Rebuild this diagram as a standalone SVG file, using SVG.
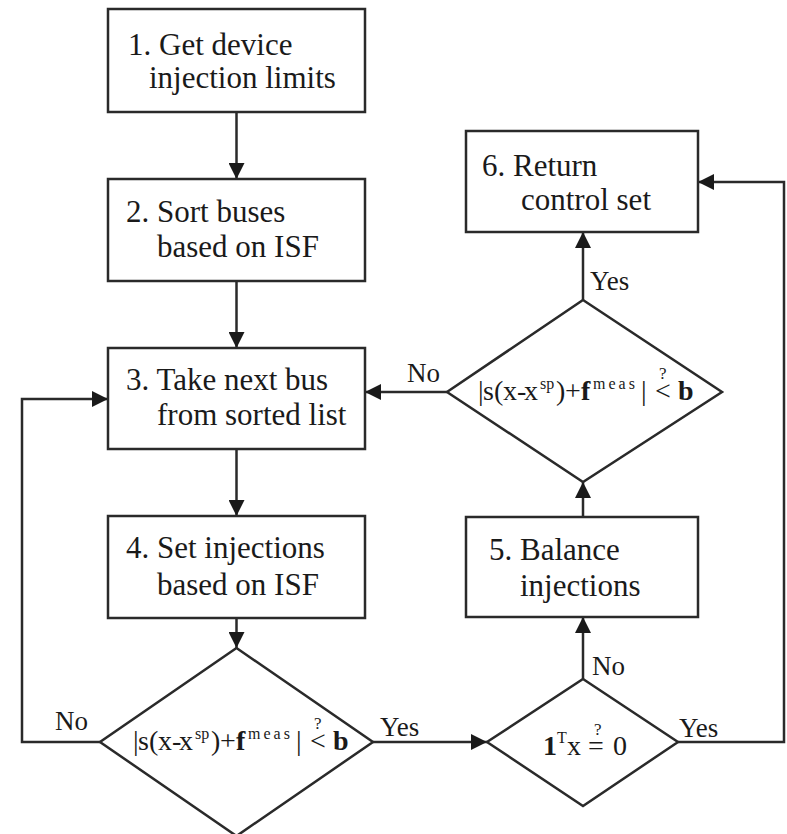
<svg xmlns="http://www.w3.org/2000/svg" width="787" height="834" viewBox="0 0 787 834">
  <style>
    .box { fill: #fff; stroke: #2a2a2a; stroke-width: 2.5; }
    .dia { fill: #fff; stroke: #2a2a2a; stroke-width: 2.5; }
    .wire { fill: none; stroke: #2a2a2a; stroke-width: 2.5; }
    text { font-family: "Liberation Serif", "DejaVu Serif", serif; fill: #1a1a1a; }
    .t { font-size: 31px; }
    .lbl { font-size: 27px; }
    .m { font-size: 28px; }
    .sup { font-size: 16px; }
    .wide { letter-spacing: 3px; }
    .q { font-size: 17px; }
    .b { font-weight: bold; }
  </style>
  <defs>
    <marker id="arrow" markerUnits="userSpaceOnUse" markerWidth="16" markerHeight="16" refX="16" refY="8" orient="auto">
      <path d="M0,0 L16,8 L0,16 z" fill="#1a1a1a"/>
    </marker>
  </defs>

  <!-- connectors -->
  <g id="connectors" class="wire">
    <path d="M236.5,112 V179" marker-end="url(#arrow)"/>
    <path d="M236.5,281 V348" marker-end="url(#arrow)"/>
    <path d="M236.5,449 V516" marker-end="url(#arrow)"/>
    <path d="M236.5,618 V648" marker-end="url(#arrow)"/>
    <path d="M373,742 H487" marker-end="url(#arrow)"/>
    <path d="M100,742 H22 V399 H108" marker-end="url(#arrow)"/>
    <path d="M583,679 V617" marker-end="url(#arrow)"/>
    <path d="M583,517 V482" marker-end="url(#arrow)"/>
    <path d="M583,300 V232" marker-end="url(#arrow)"/>
    <path d="M447,392 H365" marker-end="url(#arrow)"/>
    <path d="M678,742 H784 V182 H698" marker-end="url(#arrow)"/>
  </g>

  <!-- connector labels -->
  <g id="labels" class="lbl">
    <text x="55" y="730">No</text>
    <text x="380" y="736">Yes</text>
    <text x="407" y="382">No</text>
    <text x="590" y="290">Yes</text>
    <text x="592" y="675">No</text>
    <text x="679" y="737">Yes</text>
  </g>

  <g id="step1">
    <rect class="box" x="108" y="9" width="257" height="103"/>
    <text class="t" x="128" y="55">1. Get device</text>
    <text class="t" x="149" y="88">injection limits</text>
  </g>

  <g id="step2">
    <rect class="box" x="108" y="179" width="257" height="102"/>
    <text class="t" x="126" y="222">2. Sort buses</text>
    <text class="t" x="157" y="257">based on ISF</text>
  </g>

  <g id="step3">
    <rect class="box" x="108" y="348" width="257" height="101"/>
    <text class="t" x="126" y="390">3. Take next bus</text>
    <text class="t" x="157" y="425">from sorted list</text>
  </g>

  <g id="step4">
    <rect class="box" x="108" y="516" width="257" height="102"/>
    <text class="t" x="126" y="558">4. Set injections</text>
    <text class="t" x="157" y="595">based on ISF</text>
  </g>

  <!-- threshold test after setting injections -->
  <g id="check1">
    <polygon class="dia" points="236.5,648 373,742 236.5,836 100,742"/>
    <text class="m" y="750"><tspan x="133">|</tspan><tspan x="138">s</tspan><tspan x="149">(</tspan><tspan x="158">x</tspan><tspan x="172">-</tspan><tspan x="179">x</tspan><tspan class="sup" x="195" y="739">sp</tspan><tspan x="211" y="750">)</tspan><tspan x="220">+</tspan><tspan class="b" x="236">f</tspan><tspan class="sup wide" x="248" y="739">meas</tspan><tspan x="296" y="750">|</tspan><tspan x="310">&lt;</tspan><tspan class="b" x="333">b</tspan></text>
    <text class="q" x="314" y="729">?</text>
  </g>

  <g id="step6">
    <rect class="box" x="466" y="131" width="232" height="101"/>
    <text class="t" x="482" y="176">6. Return</text>
    <text class="t" x="521" y="210">control set</text>
  </g>

  <!-- threshold test after balancing -->
  <g id="check2">
    <polygon class="dia" points="583,300 722,392 583,482 447,392"/>
    <text class="m" y="400"><tspan x="478">|</tspan><tspan x="483">s</tspan><tspan x="494">(</tspan><tspan x="503">x</tspan><tspan x="517">-</tspan><tspan x="524">x</tspan><tspan class="sup" x="540" y="389">sp</tspan><tspan x="556" y="400">)</tspan><tspan x="565">+</tspan><tspan class="b" x="581">f</tspan><tspan class="sup wide" x="593" y="389">meas</tspan><tspan x="641" y="400">|</tspan><tspan x="655">&lt;</tspan><tspan class="b" x="678">b</tspan></text>
    <text class="q" x="659" y="379">?</text>
  </g>

  <g id="step5">
    <rect class="box" x="466" y="517" width="232" height="100"/>
    <text class="t" x="489" y="560">5. Balance</text>
    <text class="t" x="520" y="596">injections</text>
  </g>

  <!-- balance test -->
  <g id="check3">
    <polygon class="dia" points="583,679 678,742 583,806 487,742"/>
    <text class="m" y="755"><tspan class="b" x="543">1</tspan><tspan class="sup" x="557" y="743">T</tspan><tspan x="567" y="755">x</tspan><tspan x="588">=</tspan><tspan x="613">0</tspan></text>
    <text class="q" x="594" y="735">?</text>
  </g>
</svg>
